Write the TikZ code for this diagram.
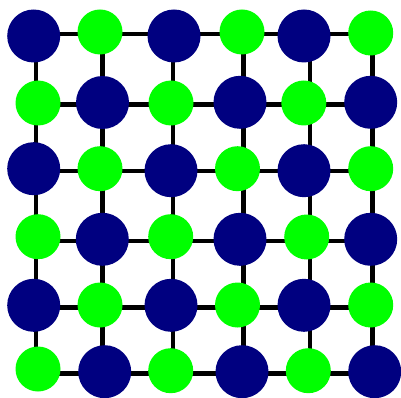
\documentclass[tikz,border=0pt]{standalone}
\definecolor{navyc}{HTML}{000080}
\definecolor{greenc}{HTML}{00FF00}
\tikzset{
  nv/.style={circle,fill=navyc,draw=none,minimum size=53pt,inner sep=0pt},
  gr/.style={circle,fill=greenc,draw=none,minimum size=45pt,inner sep=0pt},
  link/.style={line width=4.6pt,black}
}
\begin{document}
\begin{tikzpicture}[x=1pt,y=-1pt]
\useasboundingbox (0,0) rectangle (401,398);
% grid coordinates
\foreach \r/\yy in {0/34,1/104.7,2/171,3/241,4/307.3,5/373.3}{
  \foreach \c/\xx in {0/36,1/102.3,2/173,3/243.3,4/310,5/372.3}{
    \coordinate (g\r\c) at (\xx,\yy);
  }
}
% connectors
\foreach \r in {0,...,5}{
  \foreach \c [count=\n from 1] in {0,...,4}{
    \draw[link] (g\r\c) -- (g\r\n);
  }
}
\foreach \c in {0,...,5}{
  \foreach \r [count=\n from 1] in {0,...,4}{
    \draw[link] (g\r\c) -- (g\n\c);
  }
}
% nodes
\node[nv] (n00) at (33.7,36) {};
\node[gr] (n01) at (100,32) {};
\node[nv] (n02) at (174,36) {};
\node[gr] (n03) at (242,32) {};
\node[nv] (n04) at (304,36) {};
\node[gr] (n05) at (370.7,33) {};
\node[gr] (n10) at (38,103) {};
\node[nv] (n11) at (102.5,102.5) {};
\node[gr] (n12) at (171,103) {};
\node[nv] (n13) at (240,102.3) {};
\node[gr] (n14) at (303.8,103) {};
\node[nv] (n15) at (370.7,102.3) {};
\node[nv] (n20) at (33.7,168.7) {};
\node[gr] (n21) at (100,168.7) {};
\node[nv] (n22) at (171,170.7) {};
\node[gr] (n23) at (237.5,168.7) {};
\node[nv] (n24) at (304,170.7) {};
\node[gr] (n25) at (370.7,168.7) {};
\node[gr] (n30) at (38,236.7) {};
\node[nv] (n31) at (102.3,239.3) {};
\node[gr] (n32) at (170.7,236.7) {};
\node[nv] (n33) at (240,239.3) {};
\node[gr] (n34) at (306.7,237) {};
\node[nv] (n35) at (370.7,239.3) {};
\node[nv] (n40) at (33.7,305.3) {};
\node[gr] (n41) at (100,305) {};
\node[nv] (n42) at (171,305.3) {};
\node[gr] (n43) at (237.5,305) {};
\node[nv] (n44) at (304,305.3) {};
\node[gr] (n45) at (370.7,305) {};
\node[gr] (n50) at (38,369) {};
\node[nv] (n51) at (104.7,371.7) {};
\node[gr] (n52) at (170.7,370.7) {};
\node[nv] (n53) at (242,371.7) {};
\node[gr] (n54) at (308.3,370.7) {};
\node[nv] (n55) at (374.7,371.7) {};
\end{tikzpicture}
\end{document}
